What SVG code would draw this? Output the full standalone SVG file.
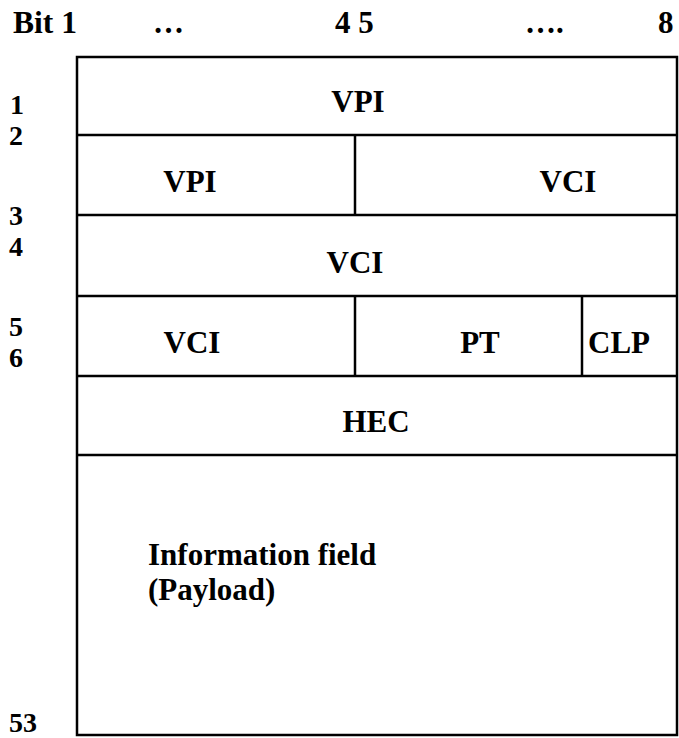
<svg xmlns="http://www.w3.org/2000/svg" width="679" height="738" viewBox="0 0 679 738">
<style>
text{font-family:"Liberation Serif","Times New Roman",serif;font-weight:bold;font-size:31px;fill:#000}
.c{text-anchor:middle}
.n{font-size:28px}
.ln{stroke:#000;stroke-width:2.5;fill:none}
</style>
<rect width="679" height="738" fill="#fff"/>
<g id="header">
<text x="13" y="33" textLength="64" lengthAdjust="spacingAndGlyphs">Bit 1</text>
<text x="153" y="33">…</text>
<text x="335" y="33">4 5</text>
<text x="525" y="33">….</text>
<text x="658" y="33">8</text>
</g>
<g id="rownums">
<text class="n" x="10" y="114">1</text>
<text class="n" x="9" y="145">2</text>
<text class="n" x="9" y="225">3</text>
<text class="n" x="9" y="256">4</text>
<text class="n" x="9" y="336">5</text>
<text class="n" x="9" y="367">6</text>
<text class="n" x="9" y="732">53</text>
</g>
<g id="connectors">
<rect class="ln" x="77" y="57" width="600" height="678"/>
<line class="ln" x1="77" y1="135" x2="677" y2="135"/>
<line class="ln" x1="77" y1="215" x2="677" y2="215"/>
<line class="ln" x1="77" y1="296" x2="677" y2="296"/>
<line class="ln" x1="77" y1="376" x2="677" y2="376"/>
<line class="ln" x1="77" y1="455" x2="677" y2="455"/>
<line class="ln" x1="355" y1="135" x2="355" y2="215"/>
<line class="ln" x1="355" y1="296" x2="355" y2="376"/>
<line class="ln" x1="582" y1="296" x2="582" y2="376"/>
</g>
<g id="vpi1"><text class="c" x="358" y="112">VPI</text></g>
<g id="vpi2"><text class="c" x="190" y="192">VPI</text></g>
<g id="vci1"><text class="c" x="568" y="192">VCI</text></g>
<g id="vci2"><text class="c" x="355" y="273">VCI</text></g>
<g id="vci3"><text class="c" x="192" y="353">VCI</text></g>
<g id="pt"><text class="c" x="480" y="353">PT</text></g>
<g id="clp"><text class="c" x="619" y="353">CLP</text></g>
<g id="hec"><text class="c" x="376" y="432">HEC</text></g>
<g id="payload">
<text x="148" y="565">Information field</text>
<text x="148" y="600">(Payload)</text>
</g>
</svg>
